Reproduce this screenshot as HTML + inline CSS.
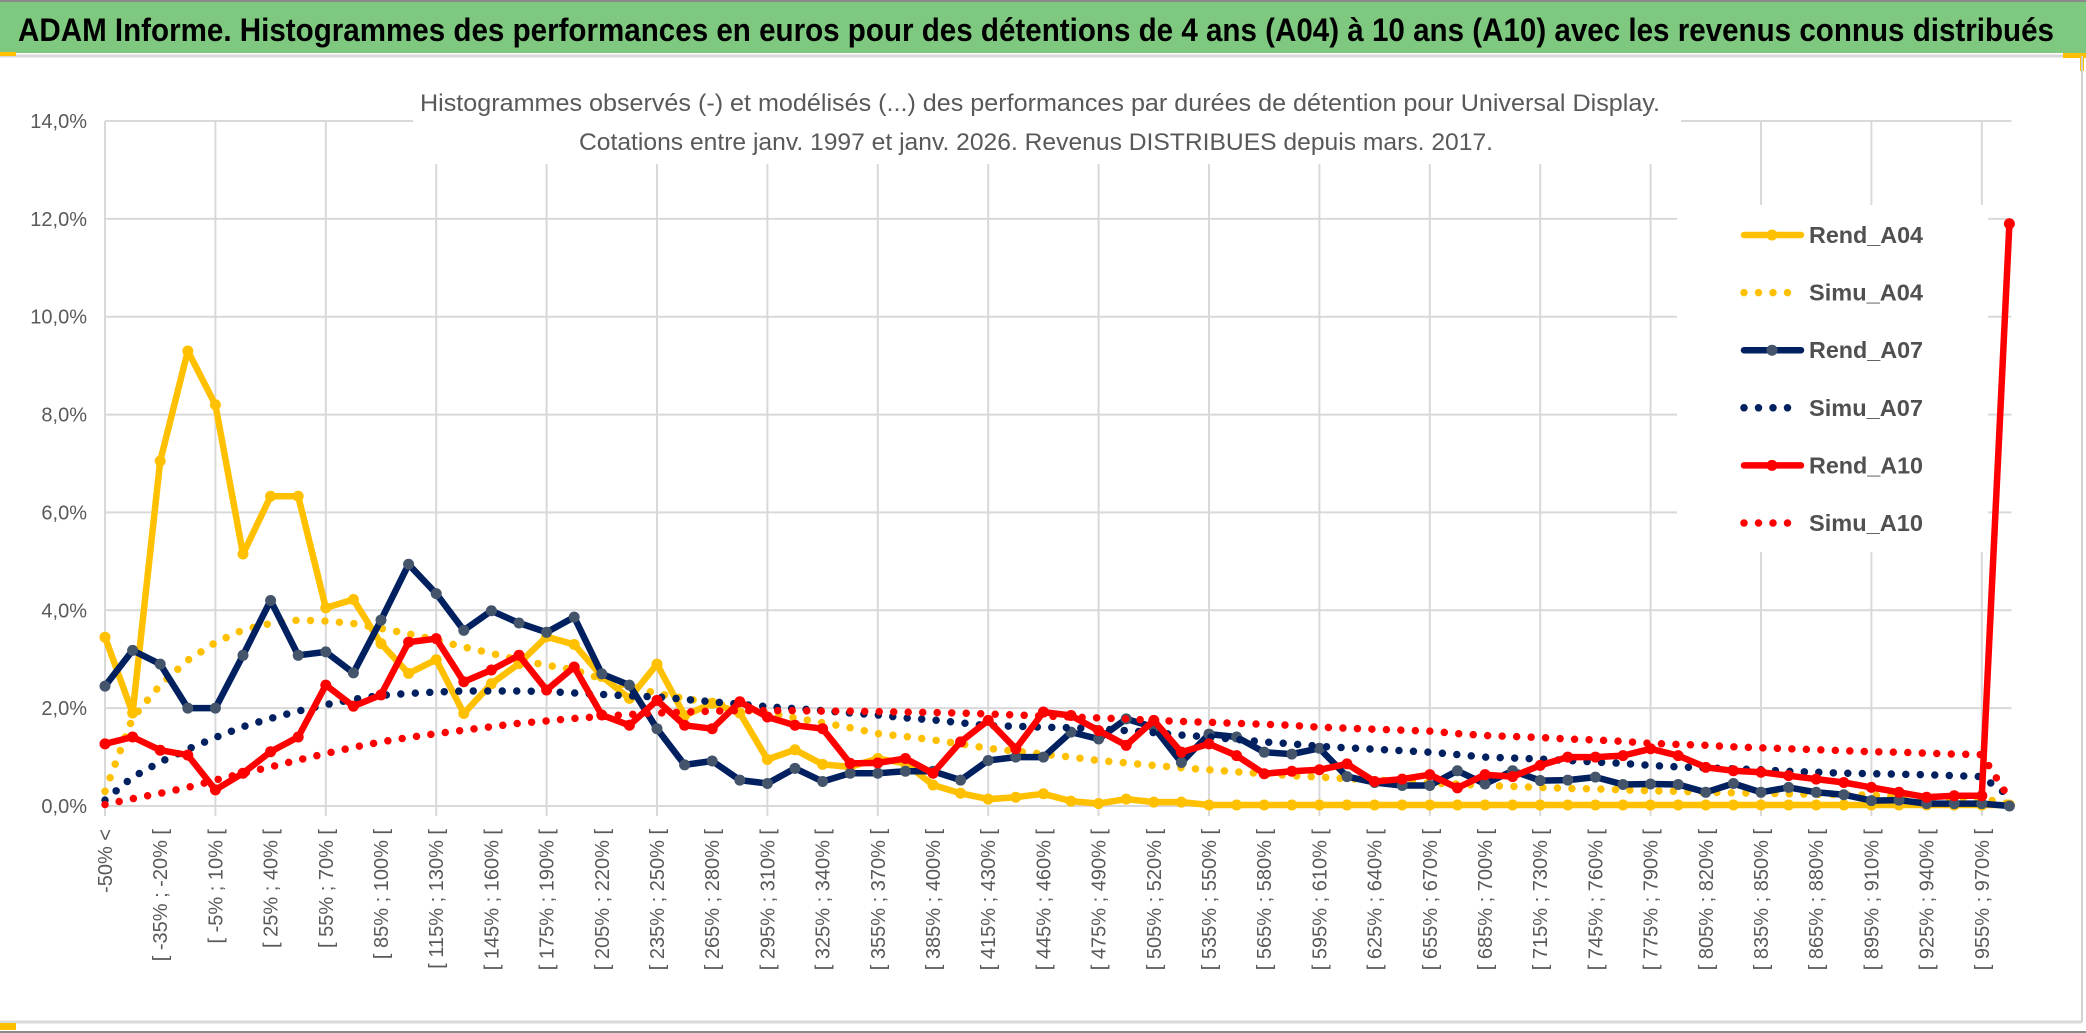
<!DOCTYPE html>
<html><head><meta charset="utf-8"><style>
html,body{margin:0;padding:0;background:#fff;}
svg{display:block;}
text{font-family:"Liberation Sans",sans-serif;}
</style></head><body>
<svg id="chart" width="2086" height="1033" viewBox="0 0 2086 1033" xmlns="http://www.w3.org/2000/svg">
<rect x="0" y="0" width="2086" height="1033" fill="#fff"/>
<rect x="0" y="2" width="2086" height="51" fill="#7ec97f"/>
<line x1="0" y1="1" x2="2086" y2="1" stroke="#8a8a8a" stroke-width="2"/>
<line x1="0" y1="56" x2="2082" y2="56" stroke="#d9d9d9" stroke-width="3"/>
<rect x="0" y="52" width="16" height="4" fill="#ffc000"/>
<rect x="2063" y="53" width="23" height="5" fill="#ffc000"/>
<rect x="2080" y="53" width="4" height="18" fill="#ffc000"/>
<line x1="2082" y1="56" x2="2082" y2="1022" stroke="#d0d0d0" stroke-width="2"/>
<line x1="0" y1="1022" x2="2082" y2="1022" stroke="#d9d9d9" stroke-width="3"/>
<line x1="0" y1="1032" x2="2086" y2="1032" stroke="#8a8a8a" stroke-width="2"/>
<rect x="0" y="1023" width="16" height="7" fill="#ffc000"/>
<text x="18" y="41" font-size="32" font-weight="bold" fill="#000" textLength="2036" lengthAdjust="spacingAndGlyphs">ADAM Informe. Histogrammes des performances en euros pour des détentions de 4 ans (A04) à 10 ans (A10) avec les revenus connus distribués</text>
<g id="grid"></g>
<g id="yaxis"></g>
<g id="xaxis"></g>
<rect x="413" y="118" width="1268" height="46" fill="#fff"/>
<rect x="1677" y="205" width="311" height="347" fill="#fff"/>
<text x="420" y="111" font-size="24" fill="#595959" textLength="1240" lengthAdjust="spacingAndGlyphs">Histogrammes observés (-) et modélisés (...) des performances par durées de détention pour Universal Display.</text>
<text x="579" y="150" font-size="24" fill="#595959" textLength="914" lengthAdjust="spacingAndGlyphs">Cotations entre janv. 1997 et janv. 2026. Revenus DISTRIBUES depuis mars. 2017.</text>
<g id="series"></g>
<g id="legend"></g>
</svg>
<script>
const yTicks = [0,2,4,6,8,10,12,14];
const yTickLabels = ["0,0%","2,0%","4,0%","6,0%","8,0%","10,0%","12,0%","14,0%"];
const nCats = 70;
const rendA04 = [3.45,1.9,7.05,9.3,8.2,5.15,6.33,6.33,4.05,4.22,3.32,2.71,2.99,1.89,2.5,2.91,3.46,3.3,2.65,2.2,2.9,1.85,2.1,1.9,0.95,1.15,0.85,0.8,0.97,0.87,0.43,0.26,0.14,0.18,0.25,0.1,0.05,0.14,0.08,0.08,0.02,0.02,0.02,0.02,0.02,0.02,0.02,0.02,0.02,0.02,0.02,0.02,0.02,0.02,0.02,0.02,0.02,0.02,0.02,0.02,0.02,0.02,0.02,0.02,0.02,0.02,0.02,0.02,0.02,0.02];
const simuA04 = [0.3,1.8,2.47,2.98,3.34,3.6,3.73,3.8,3.78,3.73,3.63,3.52,3.39,3.25,3.12,2.98,2.88,2.78,2.6,2.45,2.3,2.2,2.1,2.0,1.9,1.8,1.7,1.6,1.48,1.42,1.35,1.27,1.18,1.12,1.06,1.0,0.93,0.88,0.83,0.78,0.74,0.7,0.66,0.62,0.59,0.56,0.53,0.5,0.47,0.45,0.42,0.4,0.38,0.36,0.35,0.33,0.31,0.3,0.28,0.27,0.26,0.25,0.24,0.23,0.22,0.2,0.19,0.17,0.15,0.05];
const rendA07 = [2.45,3.18,2.9,2.0,2.0,3.08,4.2,3.08,3.15,2.72,3.8,4.94,4.34,3.59,3.99,3.74,3.55,3.86,2.7,2.47,1.58,0.84,0.92,0.53,0.46,0.77,0.5,0.67,0.67,0.71,0.71,0.53,0.93,1.0,1.0,1.51,1.37,1.78,1.61,0.89,1.47,1.41,1.1,1.06,1.18,0.6,0.48,0.42,0.42,0.72,0.45,0.72,0.52,0.53,0.59,0.44,0.45,0.44,0.28,0.46,0.28,0.38,0.28,0.23,0.11,0.12,0.05,0.05,0.05,0.0];
const simuA07 = [0.12,0.59,0.9,1.16,1.4,1.62,1.79,1.94,2.07,2.18,2.26,2.3,2.33,2.35,2.35,2.35,2.34,2.31,2.28,2.25,2.23,2.18,2.13,2.08,2.03,1.99,1.95,1.9,1.86,1.8,1.76,1.7,1.64,1.63,1.61,1.6,1.58,1.54,1.5,1.45,1.41,1.36,1.31,1.27,1.22,1.19,1.16,1.13,1.1,1.05,1.0,0.98,0.96,0.93,0.9,0.87,0.83,0.8,0.78,0.76,0.74,0.71,0.69,0.67,0.66,0.65,0.64,0.62,0.6,0.2];
const rendA10 = [1.27,1.41,1.14,1.04,0.33,0.67,1.11,1.41,2.47,2.04,2.27,3.35,3.42,2.54,2.78,3.08,2.37,2.84,1.86,1.65,2.16,1.65,1.58,2.13,1.82,1.65,1.58,0.87,0.88,0.97,0.67,1.31,1.75,1.17,1.92,1.85,1.54,1.24,1.75,1.1,1.27,1.03,0.66,0.71,0.74,0.86,0.5,0.55,0.64,0.37,0.64,0.6,0.83,1.0,1.0,1.03,1.17,1.03,0.79,0.72,0.69,0.62,0.55,0.48,0.38,0.28,0.18,0.21,0.21,11.9];
const simuA10 = [0.03,0.15,0.26,0.38,0.53,0.67,0.8,0.94,1.07,1.2,1.31,1.4,1.48,1.55,1.62,1.69,1.74,1.79,1.83,1.87,1.9,1.92,1.94,1.95,1.95,1.95,1.94,1.94,1.93,1.92,1.91,1.9,1.88,1.86,1.84,1.82,1.8,1.78,1.75,1.73,1.71,1.69,1.67,1.65,1.61,1.59,1.57,1.55,1.53,1.48,1.44,1.42,1.4,1.37,1.35,1.32,1.28,1.26,1.24,1.21,1.19,1.17,1.15,1.13,1.11,1.1,1.08,1.06,1.05,0.15];
const legendLabels = ["Rend_A04","Simu_A04","Rend_A07","Simu_A07","Rend_A10","Simu_A10"];

const NS = "http://www.w3.org/2000/svg";
const X0 = 105, XSTEP = 27.6, Y0 = 806, YMAX = 14, YTOP = 121;
function xs(i){ return X0 + i*XSTEP; }
function ys(v){ return Y0 - v*(Y0-YTOP)/YMAX; }
function mk(tag, attrs, parent){
  const e = document.createElementNS(NS, tag);
  for (const k in attrs) e.setAttribute(k, attrs[k]);
  parent.appendChild(e); return e;
}
function catLabel(k){
  if (k === 0) return "-50% <";
  const a = -50 + 15*(k-1);
  return "[ " + a + "% ; " + (a+15) + "% [";
}
const grid = document.getElementById('grid');
const xEnd = xs(nCats-1) + 2;
yTicks.forEach(function(t){
  const l = mk('line', {x1:X0, x2:xEnd, y1:ys(t), y2:ys(t), stroke:'#d9d9d9', 'stroke-width':2}, grid);
  
  
});
for (let k=0; k<nCats; k+=4){
  const l = mk('line', {x1:xs(k), x2:xs(k), y1:YTOP, y2:Y0+10, stroke:'#d9d9d9', 'stroke-width':2}, grid);
  
  
}
const yaxis = document.getElementById('yaxis');
yTicks.forEach(function(t, i){
  const tx = mk('text', {x:87, y:ys(t)+7, 'text-anchor':'end', 'font-size':20, fill:'#595959'}, yaxis);
  tx.textContent = yTickLabels[i];
  
  
});
const xaxis = document.getElementById('xaxis');
for (let k=0; k<nCats; k+=2){
  const x = xs(k)+7, y = 829;
  const tx = mk('text', {x:x, y:y, 'text-anchor':'end', 'font-size':20, fill:'#595959', transform:'rotate(-90 '+x+' '+y+')'}, xaxis);
  tx.textContent = catLabel(k);
  
  
}
const seriesG = document.getElementById('series');
function pts(arr){ return arr.map(function(v,i){ return xs(i).toFixed(1)+','+ys(v).toFixed(1); }).join(' '); }
function solid(arr, color, mcolor, name){
  const g = mk('g', {}, seriesG);
  
  
  const pl = mk('polyline', {points:pts(arr), fill:'none', stroke:color, 'stroke-width':6.5, 'stroke-linejoin':'round', 'stroke-linecap':'round'}, g);
  
  
  arr.forEach(function(v,i){
    const c = mk('circle', {cx:xs(i), cy:ys(v), r:5.5, fill:mcolor}, g);
    
    
  });
}
function dotted(arr, color, name){
  const pl = mk('polyline', {points:pts(arr), fill:'none', stroke:color, 'stroke-width':7.5, 'stroke-linecap':'round', 'stroke-dasharray':'0 14.5'}, seriesG);
  
  
}
solid(rendA04, '#ffc000', '#ffc000', 'rend-a04');
dotted(simuA04, '#ffc000', 'simu-a04');
solid(rendA07, '#002060', '#44546a', 'rend-a07');
dotted(simuA07, '#002060', 'simu-a07');
solid(rendA10, '#ff0000', '#ff0000', 'rend-a10');
dotted(simuA10, '#ff0000', 'simu-a10');

const legend = document.getElementById('legend');
const lcolors = ['#ffc000','#ffc000','#002060','#002060','#ff0000','#ff0000'];
const lmark = ['#ffc000','#ffc000','#44546a','#44546a','#ff0000','#ff0000'];
legendLabels.forEach(function(lbl, i){
  const y = 235 + i*57.6;
  const g = mk('g', {}, legend);
  
  
  if (i % 2 === 0){
    mk('line', {x1:1744, x2:1801, y1:y, y2:y, stroke:lcolors[i], 'stroke-width':6.5, 'stroke-linecap':'round'}, g);
    mk('circle', {cx:1772, cy:y, r:5.5, fill:lmark[i]}, g);
  } else {
    mk('line', {x1:1744, x2:1801, y1:y, y2:y, stroke:lcolors[i], 'stroke-width':7.5, 'stroke-linecap':'round', 'stroke-dasharray':'0 14.5'}, g);
  }
  const t = mk('text', {x:1809, y:y+8, 'font-size':23, 'font-weight':'bold', fill:'#505050', textLength:114, lengthAdjust:'spacingAndGlyphs'}, g);
  t.textContent = lbl;
});
</script>
</body></html>
